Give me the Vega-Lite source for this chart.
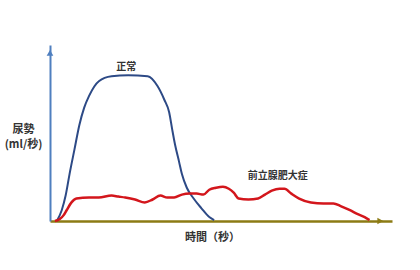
{
  "$schema": "https://vega.github.io/schema/vega-lite/v6.json",
  "width": 342,
  "height": 176,
  "autosize": {"type": "none"},
  "padding": {"left": 50, "top": 45, "right": 28, "bottom": 49},
  "background": "white",
  "config": {"view": {"stroke": null}, "font": "Noto Sans CJK JP"},
  "datasets": {
    "normal": [
      {"t": 7, "v": 0}, {"t": 12, "v": 11}, {"t": 16, "v": 26}, {"t": 20, "v": 48},
      {"t": 25, "v": 73}, {"t": 30, "v": 98}, {"t": 35, "v": 116}, {"t": 40, "v": 128},
      {"t": 50, "v": 143}, {"t": 63, "v": 148}, {"t": 80, "v": 149}, {"t": 100, "v": 148},
      {"t": 110, "v": 138}, {"t": 117, "v": 124}, {"t": 122, "v": 111}, {"t": 125, "v": 94},
      {"t": 128, "v": 78}, {"t": 132, "v": 61}, {"t": 135, "v": 48}, {"t": 140, "v": 34},
      {"t": 147, "v": 23}, {"t": 155, "v": 13}, {"t": 163, "v": 4}, {"t": 168, "v": 1}
    ],
    "bph": [
      {"t": 5, "v": 0}, {"t": 10, "v": 2}, {"t": 14, "v": 6}, {"t": 17, "v": 11},
      {"t": 22, "v": 19}, {"t": 27, "v": 23}, {"t": 40, "v": 24}, {"t": 50, "v": 24},
      {"t": 63, "v": 26}, {"t": 70, "v": 25}, {"t": 77, "v": 24}, {"t": 87, "v": 22},
      {"t": 97, "v": 19}, {"t": 105, "v": 22}, {"t": 113, "v": 26}, {"t": 120, "v": 24},
      {"t": 127, "v": 24}, {"t": 135, "v": 27}, {"t": 143, "v": 28}, {"t": 150, "v": 28},
      {"t": 157, "v": 27}, {"t": 163, "v": 32}, {"t": 170, "v": 34}, {"t": 177, "v": 35},
      {"t": 183, "v": 33}, {"t": 188, "v": 29}, {"t": 193, "v": 23}, {"t": 203, "v": 22},
      {"t": 213, "v": 23}, {"t": 220, "v": 27}, {"t": 227, "v": 31}, {"t": 235, "v": 33},
      {"t": 240, "v": 33}, {"t": 247, "v": 28}, {"t": 255, "v": 23}, {"t": 267, "v": 19},
      {"t": 280, "v": 18}, {"t": 290, "v": 18}, {"t": 298, "v": 15}, {"t": 307, "v": 11},
      {"t": 315, "v": 7}, {"t": 322, "v": 4}, {"t": 327, "v": 1}
    ],
    "labels": [
      {"t": 78, "v": 157, "label": "正常"},
      {"t": 233, "v": 46, "label": "前立腺肥大症"}
    ],
    "yarrow": [{"t": 0, "v": 172}],
    "xarrow": [{"t": 338, "v": 0}]
  },
  "layer": [
    {
      "data": {"name": "normal"},
      "mark": {"type": "line", "color": "#2d4a86", "strokeWidth": 2, "interpolate": "monotone"},
      "encoding": {
        "x": {"field": "t", "type": "quantitative", "scale": {"domain": [0, 342]},
          "axis": {"domainColor": "#8c7b14", "domainWidth": 2.5, "ticks": false, "labels": false, "grid": false,
            "title": "時間（秒）", "titleFontSize": 11, "titleFontWeight": "bold", "titleColor": "#333333",
            "titleX": 162, "titleY": 16, "titleBaseline": "middle", "titleAlign": "center"}},
        "y": {"field": "v", "type": "quantitative", "scale": {"domain": [0, 176]},
          "axis": {"domainColor": "#4f7fbf", "domainWidth": 2, "ticks": false, "labels": false, "grid": false,
            "title": ["尿勢", "(ml/秒)"], "titleFontSize": 11, "titleFontWeight": "bold", "titleColor": "#333333",
            "titleAngle": 0, "titleX": -27, "titleY": 84, "titleAlign": "center", "titleBaseline": "middle", "titleLineHeight": 15}}
      }
    },
    {
      "data": {"name": "bph"},
      "mark": {"type": "line", "color": "#d3161c", "strokeWidth": 2.5, "interpolate": "monotone"},
      "encoding": {
        "x": {"field": "t", "type": "quantitative"},
        "y": {"field": "v", "type": "quantitative"}
      }
    },
    {
      "data": {"name": "labels"},
      "mark": {"type": "text", "fontSize": 10, "fontWeight": "bold", "color": "#333333", "baseline": "middle"},
      "encoding": {
        "x": {"field": "t", "type": "quantitative"},
        "y": {"field": "v", "type": "quantitative"},
        "text": {"field": "label"}
      }
    },
    {
      "data": {"name": "yarrow"},
      "mark": {"type": "point", "shape": "triangle-up", "filled": true, "color": "#4f7fbf", "size": 45, "opacity": 1},
      "encoding": {
        "x": {"field": "t", "type": "quantitative"},
        "y": {"field": "v", "type": "quantitative"}
      }
    },
    {
      "data": {"name": "xarrow"},
      "mark": {"type": "point", "shape": "triangle-right", "filled": true, "color": "#8c7b14", "size": 45, "opacity": 1},
      "encoding": {
        "x": {"field": "t", "type": "quantitative"},
        "y": {"field": "v", "type": "quantitative"}
      }
    }
  ]
}
